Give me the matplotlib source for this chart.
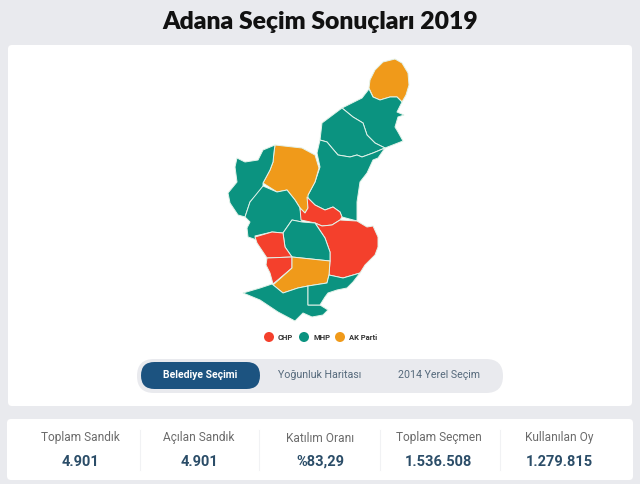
import matplotlib
matplotlib.use("Agg")
import matplotlib.pyplot as plt
from matplotlib.patches import FancyBboxPatch, Polygon, Circle

RED = "#f4402c"
TEAL = "#0b9380"
ORANGE = "#f09a1a"

# district outlines, in picture pixels
north_cap = [(369,88),(370,80),(375,70),(383,62),(395,59),(402,63),(408,73),(409,85),(406,95),(402,102),(397,97),(390,97),(380,100),(373,97)]
north_east = [(369,89),(373,97),(380,100),(390,97),(397,97),(402,102),(397,112),(404,115),(398,117),(395,127),(398,132),(403,141),(385,148),(375,143),(367,135),(363,123),(353,117),(342,108),(362,98)]
north_mid = [(342,108),(330,117),(322,123),(320,140),(327,142),(332,148),(338,155),(350,157),(357,155),(362,157),(373,153),(385,148),(375,143),(367,135),(363,123),(353,117)]
east_long = [(320,140),(327,142),(332,148),(338,155),(350,157),(357,155),(362,157),(373,153),(385,148),(378,158),(373,160),(367,173),(360,182),(357,202),(357,221),(342,217),(340,212),(333,207),(325,210),(315,205),(307,197),(315,182),(320,167),(317,153)]
mid_orange = [(275,145),(302,148),(315,155),(319,168),(315,182),(308,195),(308,208),(305,213),(300,208),(295,200),(287,190),(277,192),(263,183),(270,170),(273,162),(274,152)]
far_west = [(275,145),(263,150),(258,160),(245,162),(237,158),(235,167),(237,182),(228,193),(230,203),(238,215),(245,217),(250,202),(263,188),(263,183),(270,170),(273,162),(274,152)]
central_west = [(263,186),(277,192),(287,190),(295,200),(300,208),(302,222),(292,220),(283,233),(272,232),(255,236),(257,240),(248,237),(247,228),(250,222),(245,217),(250,202)]
north_red = [(300,208),(305,213),(308,208),(307,197),(315,205),(325,210),(333,207),(340,212),(342,217),(340,220),(332,225),(322,226),(315,223),(301,220)]
east_red = [(315,223),(322,226),(332,225),(340,220),(357,221),(367,227),(373,226),(378,237),(378,247),(375,255),(365,265),(360,273),(343,278),(329,275),(330,261),(330,252),(325,238)]
central = [(283,233),(292,220),(302,222),(315,223),(325,238),(330,252),(330,261),(292,257),(285,247)]
west_red = [(255,237),(272,232),(283,233),(285,247),(292,257),(267,258),(257,243)]
southwest_red = [(267,258),(292,257),(292,268),(273,284),(270,273),(266,265)]
south_orange = [(292,257),(330,261),(329,275),(327,283),(308,286),(298,288),(283,293),(273,285),(292,268)]
coast = [(243,293),(260,288),(272,284),(283,293),(298,288),(308,286),(308,305),(320,305),(328,310),(323,315),(312,317),(303,313),(295,321),(278,312),(260,300)]
southeast = [(308,286),(327,283),(329,275),(343,278),(360,273),(353,282),(347,288),(337,290),(328,293),(325,297),(320,305),(308,305)]

districts = [north_cap, north_east, north_mid, east_long, mid_orange, far_west, central_west,
             north_red, east_red, central, west_red, southwest_red, south_orange, coast, southeast]
winners = ["AK Parti", "MHP", "MHP", "MHP", "AK Parti", "MHP", "MHP",
           "CHP", "CHP", "MHP", "CHP", "CHP", "AK Parti", "MHP", "MHP"]

parties = ["CHP", "MHP", "AK Parti"]
party_colors = {"CHP": RED, "MHP": TEAL, "AK Parti": ORANGE}
legend_dots = [269, 304, 340]

tabs = ["Belediye Seçimi", "Yoğunluk Haritası", "2014 Yerel Seçim"]
tab_x = [200, 320, 439]

stat_labels = ["Toplam Sandık", "Açılan Sandık", "Katılım Oranı", "Toplam Seçmen", "Kullanılan Oy"]
stat_values = ["4.901", "4.901", "%83,29", "1.536.508", "1.279.815"]
stat_x = [80, 199, 320, 439, 559]
stat_sep = [140, 259, 380, 500]

plt.rcParams["font.family"] = ["Roboto", "DejaVu Sans"]

fig = plt.figure(figsize=(6.4, 4.84), dpi=100, facecolor="#e9eaee")
ax = fig.add_axes([0, 0, 1, 1])
ax.set_xlim(0, 640)
ax.set_ylim(484, 0)
ax.axis("off")

def rounded(x0, y0, x1, y1, r, color, z=1):
    ax.add_patch(FancyBboxPatch((x0 + r, y0 + r), x1 - x0 - 2*r, y1 - y0 - 2*r,
                                boxstyle="round,pad=%f,rounding_size=%f" % (r, r),
                                fc=color, ec="none", zorder=z))

ax.text(320, 22, "Adana Seçim Sonuçları 2019", ha="center", va="center",
        fontsize=17.8, fontweight="heavy", color="#111111", family="Lato")

rounded(8, 45, 632, 406, 4, "white")
rounded(7, 419, 633, 480, 4, "white")

# map
for pts, who in zip(districts, winners):
    ax.add_patch(Polygon(pts, closed=True, fc=party_colors[who], ec="#e3f3ea", lw=0.7, zorder=2, joinstyle="round"))

# legend
for x, name in zip(legend_dots, parties):
    ax.add_patch(Circle((x, 337), 5, fc=party_colors[name], ec="none", zorder=3))
    ax.text(x + 9, 337.5, name, ha="left", va="center", fontsize=5.5, fontweight="bold", color="#333333")

# tab switch
rounded(137, 359, 503, 393, 17, "#e9eaee", 2)
rounded(141, 362, 260, 389, 13.5, "#1c5380", 3)
for i, (x, t) in enumerate(zip(tab_x, tabs)):
    ax.text(x, 375.5, t, ha="center", va="center", fontsize=7.5 if i == 0 else 7.7, zorder=4,
            color="white" if i == 0 else "#55697b", fontweight="bold" if i == 0 else "normal")

# totals strip
for x in stat_sep:
    ax.plot([x, x], [430, 470], color="#f1f2f4", lw=0.8, zorder=2)
for x, lab, val in zip(stat_x, stat_labels, stat_values):
    ax.text(x, 438, lab, ha="center", va="center", fontsize=8.6, color="#6b6b6b", zorder=3)
    ax.text(x, 462, val, ha="center", va="center", fontsize=10.5, fontweight="bold", color="#2b4d68", zorder=3)

fig.savefig("out.png", dpi=100, facecolor=fig.get_facecolor())
